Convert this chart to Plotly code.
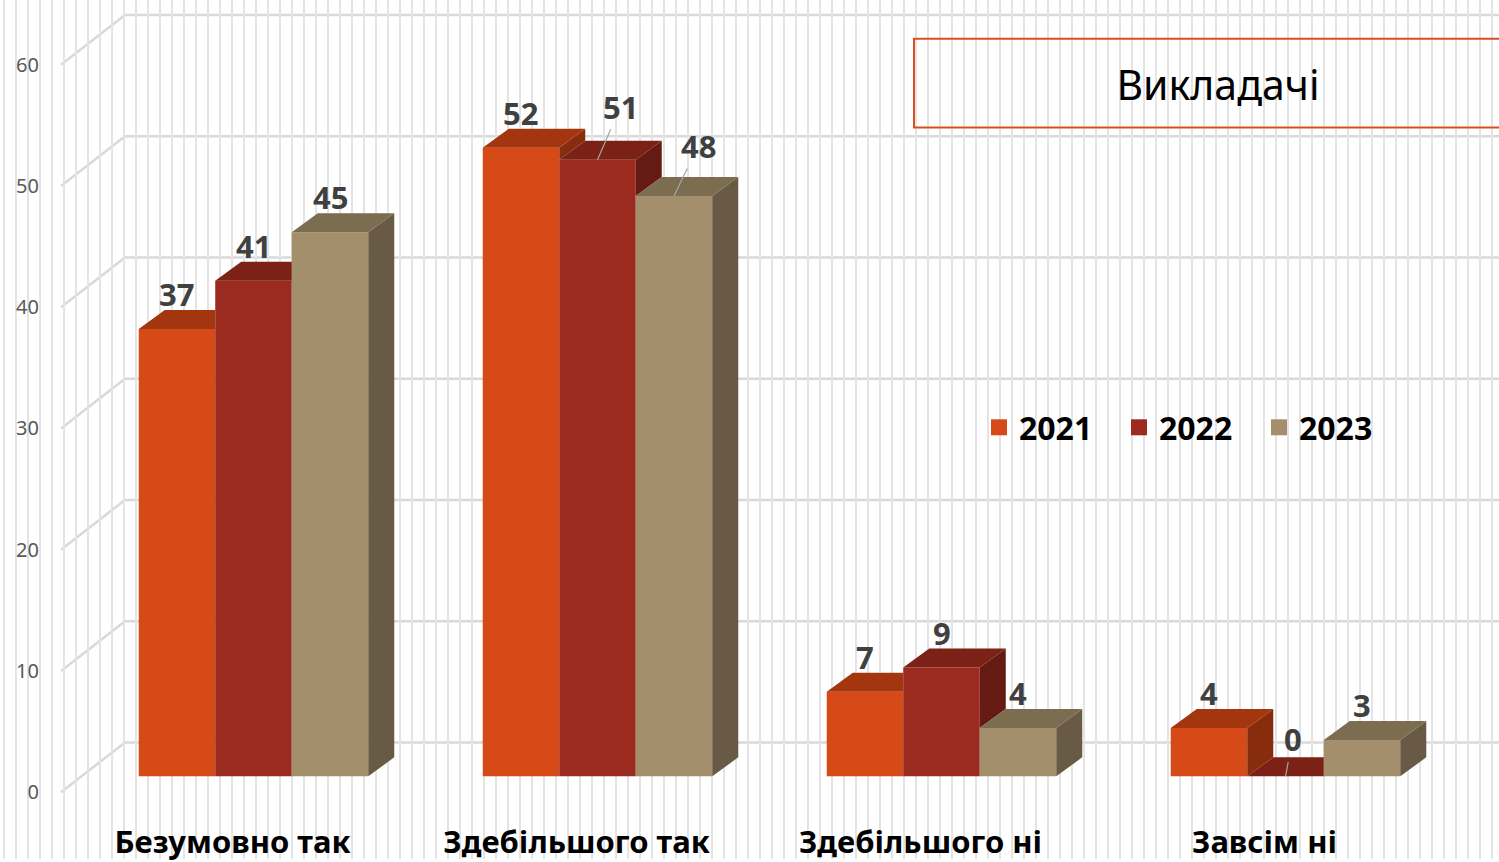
import plotly.graph_objects as go

# ---------------- data ----------------
categories = ["Безумовно так", "Здебільшого так", "Здебільшого ні", "Завсім ні"]
years = ["2021", "2022", "2023"]
values_2021 = [37, 52, 7, 4]
values_2022 = [41, 51, 9, 0]
values_2023 = [45, 48, 4, 3]
y_ticks = [0, 10, 20, 30, 40, 50, 60]
title_text = "Викладачі"

# ---------------- styling / geometry ----------------
W_PX, H_PX = 1499, 862
series = [values_2021, values_2022, values_2023]
front_colors = ["#D54A17", "#9B2A1F", "#A38F6C"]
top_colors = ["#A3360F", "#7B2116", "#7C6D50"]
side_colors = ["#872C0D", "#651B13", "#685A45"]

X_RANGE = [-0.7369, 3.6206]       # category index units
Y_RANGE = [-6.842, 64.22]         # value units for bar fronts
Y2_RANGE = [-5.507, 65.34]        # value units for the side-wall tick labels
BAR_W = 0.2224                    # bar width (category units)
DX = 0.0756                       # projected depth, x (category units)
DY = 1.57                         # projected depth, y (value units)
WALL_DY = 4.11                    # back-wall offset (y2 units)
WALL_X0, WALL_X1 = 61 / W_PX, 125 / W_PX

fnt = "Noto Sans"
fig = go.Figure()

# front faces: real bar traces
for j, (yr, vals) in enumerate(zip(years, series)):
    fig.add_trace(go.Bar(x=categories, y=vals, name=yr, marker=dict(color=front_colors[j], line=dict(width=0)),
                         showlegend=False, xaxis="x", yaxis="y"))

# top and side faces (computed from the data, clipped against the next bar)
for i in range(len(categories)):
    for j in range(3):
        v = series[j][i]
        x0 = i + (j - 1) * BAR_W - BAR_W / 2
        x1 = x0 + BAR_W
        vn = series[j + 1][i] if j < 2 else None
        # side face
        low = vn if vn is not None else 0
        if v > low:
            px = [x1, x1, x1 + DX, x1 + DX, x1]
            py = [low, v, v + DY, low + DY, low]
            fig.add_trace(go.Scatter(x=px, y=py, fill="toself", mode="lines", fillcolor=side_colors[j],
                                     line=dict(width=0, color=side_colors[j]), hoverinfo="skip",
                                     showlegend=False, xaxis="x2", yaxis="y"))
        # top face
        if vn is None or vn <= v:
            px = [x0, x1, x1 + DX, x0 + DX, x0]
            py = [v, v, v + DY, v + DY, v]
        elif vn >= v + DY:
            px = [x0, x1, x1, x0 + DX, x0]
            py = [v, v, v + DY, v + DY, v]
        else:
            xm = x1 + DX * (vn - v) / DY
            px = [x0, x1, x1, xm, x1 + DX, x0 + DX, x0]
            py = [v, v, vn, vn, v + DY, v + DY, v]
        fig.add_trace(go.Scatter(x=px, y=py, fill="toself", mode="lines", fillcolor=top_colors[j],
                                 line=dict(width=0, color=top_colors[j]), hoverinfo="skip",
                                 showlegend=False, xaxis="x2", yaxis="y"))

# legend proxies
for j, yr in enumerate(years):
    fig.add_trace(go.Scatter(x=[None], y=[None], mode="markers", name=yr,
                             marker=dict(symbol="square", size=21, color=front_colors[j]),
                             xaxis="x2", yaxis="y"))

# tick-label axis carrier
fig.add_trace(go.Scatter(x=[None], y=[None], xaxis="x2", yaxis="y2", showlegend=False, hoverinfo="skip"))

# value labels
leader = {(1, 1): (23, -53), (1, 2): (24, -50), (3, 1): (7, -37)}
for i in range(len(categories)):
    for j in range(3):
        v = series[j][i]
        xc = i + (j - 1) * BAR_W
        if (i, j) in leader:
            ax, ay = leader[(i, j)]
            fig.add_annotation(x=xc, y=v, xref="x2", yref="y", text=str(v), showarrow=True,
                               arrowhead=0, arrowwidth=1.2, arrowcolor="#A6A6A6", ax=ax, ay=ay, standoff=0,
                               font=dict(family=fnt, size=31, color="#404040", weight=700))
        else:
            fig.add_annotation(x=xc, y=v + DY, xref="x2", yref="y", text=str(v), showarrow=False,
                               yanchor="bottom", yshift=-7,
                               font=dict(family=fnt, size=31, color="#404040", weight=700))

# side wall + back wall lines
shapes = []
for g in y_ticks:
    shapes.append(dict(type="line", xref="paper", yref="y2", x0=WALL_X0, x1=WALL_X1, y0=g, y1=g + WALL_DY,
                       line=dict(color="#D9D9D9", width=2.5), layer="below"))
    shapes.append(dict(type="line", xref="paper", yref="y2", x0=WALL_X1, x1=1.0, y0=g + WALL_DY, y1=g + WALL_DY,
                       line=dict(color="#D9D9D9", width=2.5), layer="below"))
# title frame
shapes.append(dict(type="rect", xref="paper", yref="paper", x0=914 / W_PX, x1=1.05,
                   y0=1 - 128 / H_PX, y1=1 - 39 / H_PX, line=dict(color="#D8501E", width=2),
                   fillcolor="rgba(0,0,0,0)", layer="above"))

fig.update_layout(
    width=W_PX, height=H_PX,
    margin=dict(l=0, r=0, t=0, b=0),
    paper_bgcolor="white", plot_bgcolor="rgba(0,0,0,0)",
    barmode="group", bargap=1 - 3 * BAR_W, bargroupgap=0,
    shapes=shapes,
    title=dict(text=title_text, x=1218 / W_PX, xanchor="center", y=1 - 86 / H_PX, yanchor="middle",
               font=dict(family=fnt, size=41, color="black")),
    showlegend=True,
    legend=dict(orientation="h", x=979 / W_PX, xanchor="left", y=1 - 429 / H_PX, yanchor="middle",
                font=dict(family=fnt, size=32, color="black", weight=700), bgcolor="rgba(0,0,0,0)",
                entrywidth=95, entrywidthmode="pixels", itemsizing="trace"),
    xaxis=dict(type="category", categoryarray=categories, range=X_RANGE, anchor="free", position=1 - 824 / H_PX,
               showgrid=False, zeroline=False, showline=False, ticks="", ticklabelshift=-21,
               tickfont=dict(family=fnt, size=31, color="black", weight=700)),
    xaxis2=dict(overlaying="x", type="linear", range=X_RANGE, anchor="y", showticklabels=False,
                showgrid=True, gridcolor="#E4E4E4", gridwidth=2, dtick=12 / 344, tick0=(4 - 253.5) / 344,
                zeroline=False, showline=False, ticks=""),
    yaxis=dict(range=Y_RANGE, showgrid=False, showticklabels=False, zeroline=False, showline=False, ticks=""),
    yaxis2=dict(overlaying="y", range=Y2_RANGE, anchor="free", position=39 / W_PX, side="left",
                tickvals=y_ticks, showgrid=False, zeroline=False, showline=False, ticks="",
                tickfont=dict(family=fnt, size=20, color="#595959")),
)

post = (
    "document.documentElement.style.margin='0';document.documentElement.style.overflow='hidden';"
    "document.documentElement.style.height='862px';"
    "document.body.style.margin='0';document.body.style.padding='0';document.body.style.overflow='hidden';"
    "document.body.style.height='862px';"
    "var g=document.querySelector('.plotly-graph-div');"
    "if(g&&g.parentElement){g.parentElement.style.display='block';g.parentElement.style.height='862px';"
    "g.parentElement.style.overflow='hidden';}"
)
fig.write_html("out.html", config={"displayModeBar": False}, post_script=post)
